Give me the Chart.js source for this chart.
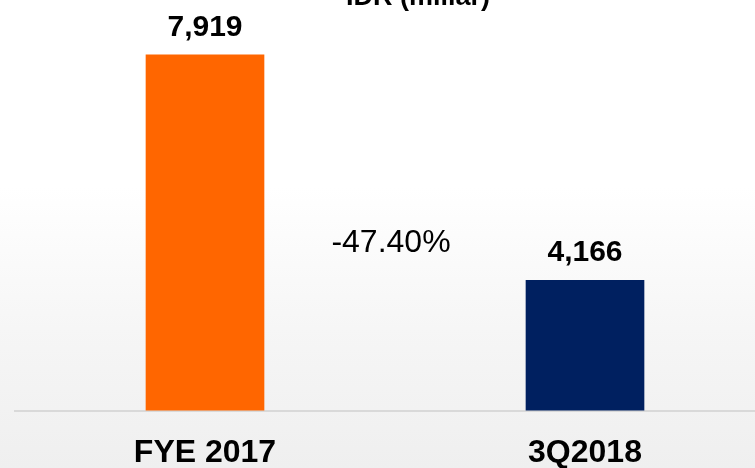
<!DOCTYPE html>
<html>
<head>
<meta charset="utf-8">
<script src="https://cdn.jsdelivr.net/npm/chart.js@4/dist/chart.umd.min.js"></script>
<style>
	html, body {
		margin: 0;
		padding: 0;
		width: 755px;
		height: 468px;
		overflow: hidden;
		background: linear-gradient(to bottom, #ffffff 0%, #ffffff 40%, #f6f6f6 70%, #efefef 100%);
	}
	#wrap {
		position: relative;
		width: 775px;
		height: 495px;
	}
</style>
</head>
<body>
<div id="wrap"><canvas id="chart"></canvas></div>
<script>
// values
var categories = ['FYE 2017', '3Q2018'];
var values = [7919, 4166];
var barColors = ['#FF6600', '#002060'];
var changeLabel = '-47.40%';
var titleText = 'IDR (miliar)';

var fontName = "'Liberation Sans', Arial, sans-serif";

// value labels, title and the change text
var labelsPlugin = {
	id: 'labels',
	afterDatasetsDraw: function (chart) {
		var ctx = chart.ctx;
		var bars = chart.getDatasetMeta(0).data;
		ctx.save();
		ctx.fillStyle = '#000000';
		ctx.textAlign = 'center';
		ctx.textBaseline = 'alphabetic';

		ctx.font = 'bold 30px ' + fontName;
		for (var i = 0; i < bars.length; i++) {
			ctx.fillText(values[i].toLocaleString('en-US'), bars[i].x, bars[i].y - 19);
		}

		ctx.font = '32px ' + fontName;
		var midX = (bars[0].x + bars[1].x) / 2 - 4;
		ctx.fillText(changeLabel, midX, bars[1].y - 28);

		ctx.font = 'bold 27px ' + fontName;
		ctx.fillText(titleText, 418, 5);
		ctx.restore();
	}
};

var ctx = document.getElementById('chart').getContext('2d');

new Chart(ctx, {
	type: 'bar',
	data: {
		labels: categories,
		datasets: [{
			data: values,
			backgroundColor: barColors,
			barThickness: 118
		}]
	},
	options: {
		responsive: true,
		maintainAspectRatio: false,
		animation: false,
		layout: { padding: { top: 20, left: 15, right: 0, bottom: 0 } },
		plugins: {
			legend: { display: false },
			tooltip: { enabled: false }
		},
		scales: {
			x: {
				grid: { display: false, drawTicks: false },
				border: { display: true, color: '#d9d9d9', width: 2 },
				ticks: {
					padding: 23,
					color: '#000000',
					font: { family: fontName, size: 32, weight: 'bold' }
				}
			},
			y: {
				display: false,
				min: 2000,
				max: 8500
			}
		}
	},
	plugins: [labelsPlugin]
});
</script>
</body>
</html>
